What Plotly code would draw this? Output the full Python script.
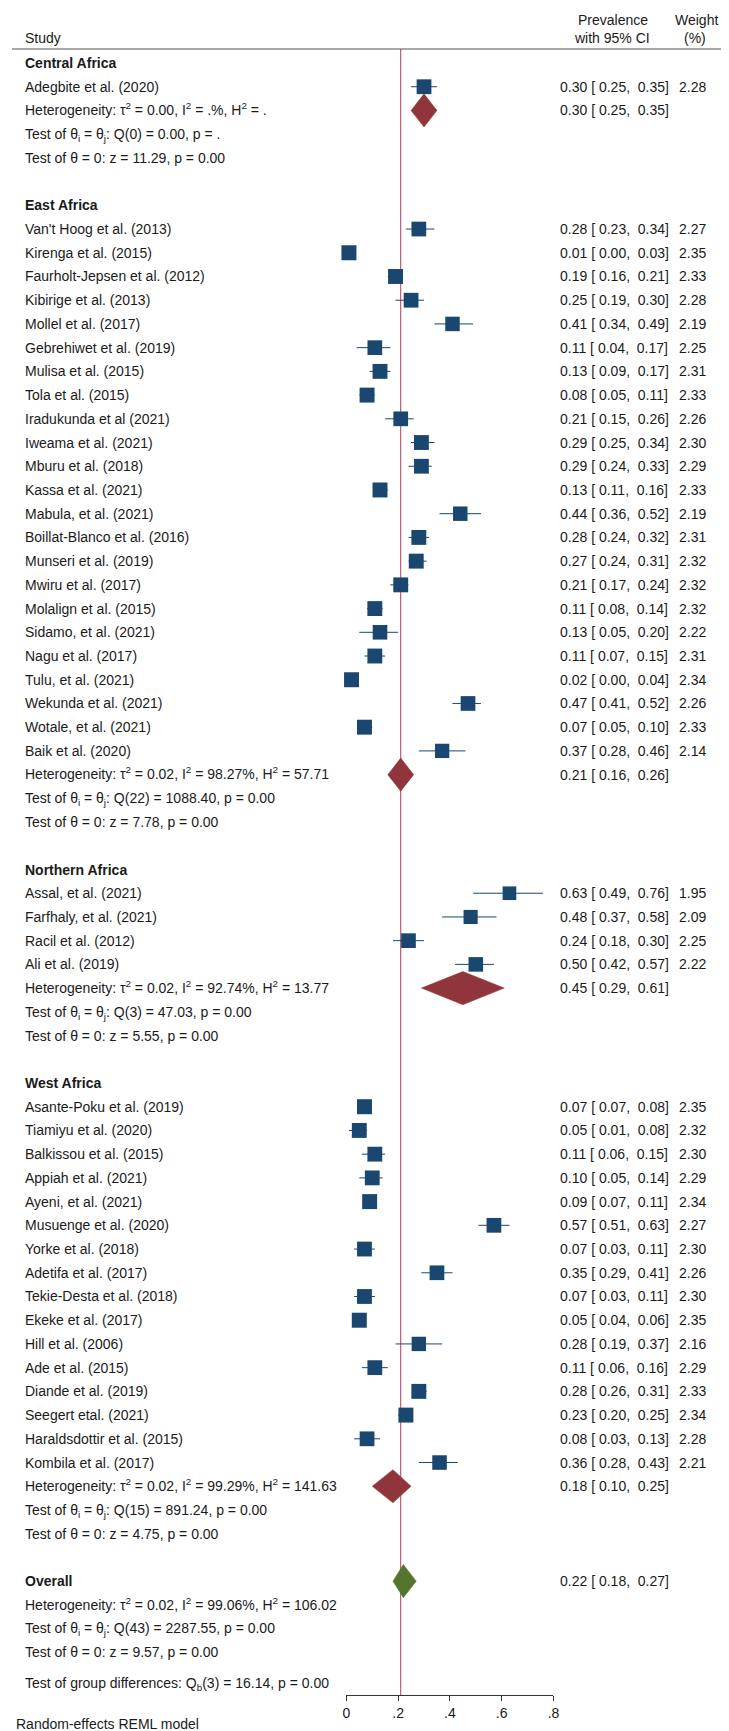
import math
import plotly.graph_objects as go

# ---- data ----
central_names = ["Adegbite et al. (2020)"]
central_est = [0.30]
central_lo = [0.25]
central_hi = [0.35]
central_w = [2.28]

east_names = [
    "Van't Hoog et al. (2013)", "Kirenga et al. (2015)", "Faurholt-Jepsen et al. (2012)",
    "Kibirige et al. (2013)", "Mollel et al. (2017)", "Gebrehiwet et al. (2019)",
    "Mulisa et al. (2015)", "Tola et al. (2015)", "Iradukunda et al (2021)",
    "Iweama et al. (2021)", "Mburu et al. (2018)", "Kassa et al. (2021)",
    "Mabula, et al. (2021)", "Boillat-Blanco et al. (2016)", "Munseri et al. (2019)",
    "Mwiru et al. (2017)", "Molalign et al. (2015)", "Sidamo, et al. (2021)",
    "Nagu et al. (2017)", "Tulu, et al. (2021)", "Wekunda et al. (2021)",
    "Wotale, et al. (2021)", "Baik et al. (2020)",
]
east_est = [0.28, 0.01, 0.19, 0.25, 0.41, 0.11, 0.13, 0.08, 0.21, 0.29, 0.29, 0.13,
            0.44, 0.28, 0.27, 0.21, 0.11, 0.13, 0.11, 0.02, 0.47, 0.07, 0.37]
east_lo = [0.23, 0.00, 0.16, 0.19, 0.34, 0.04, 0.09, 0.05, 0.15, 0.25, 0.24, 0.11,
           0.36, 0.24, 0.24, 0.17, 0.08, 0.05, 0.07, 0.00, 0.41, 0.05, 0.28]
east_hi = [0.34, 0.03, 0.21, 0.30, 0.49, 0.17, 0.17, 0.11, 0.26, 0.34, 0.33, 0.16,
           0.52, 0.32, 0.31, 0.24, 0.14, 0.20, 0.15, 0.04, 0.52, 0.10, 0.46]
east_w = [2.27, 2.35, 2.33, 2.28, 2.19, 2.25, 2.31, 2.33, 2.26, 2.30, 2.29, 2.33,
          2.19, 2.31, 2.32, 2.32, 2.32, 2.22, 2.31, 2.34, 2.26, 2.33, 2.14]

north_names = ["Assal, et al. (2021)", "Farfhaly, et al. (2021)", "Racil et al. (2012)", "Ali et al. (2019)"]
north_est = [0.63, 0.48, 0.24, 0.50]
north_lo = [0.49, 0.37, 0.18, 0.42]
north_hi = [0.76, 0.58, 0.30, 0.57]
north_w = [1.95, 2.09, 2.25, 2.22]

west_names = [
    "Asante-Poku et al. (2019)", "Tiamiyu et al. (2020)", "Balkissou et al. (2015)",
    "Appiah et al. (2021)", "Ayeni, et al. (2021)", "Musuenge et al. (2020)",
    "Yorke et al. (2018)", "Adetifa et al. (2017)", "Tekie-Desta et al. (2018)",
    "Ekeke et al. (2017)", "Hill et al. (2006)", "Ade et al. (2015)",
    "Diande et al. (2019)", "Seegert etal. (2021)", "Haraldsdottir et al. (2015)",
    "Kombila et al. (2017)",
]
west_est = [0.07, 0.05, 0.11, 0.10, 0.09, 0.57, 0.07, 0.35, 0.07, 0.05, 0.28, 0.11, 0.28, 0.23, 0.08, 0.36]
west_lo = [0.07, 0.01, 0.06, 0.05, 0.07, 0.51, 0.03, 0.29, 0.03, 0.04, 0.19, 0.06, 0.26, 0.20, 0.03, 0.28]
west_hi = [0.08, 0.08, 0.15, 0.14, 0.11, 0.63, 0.11, 0.41, 0.11, 0.06, 0.37, 0.16, 0.31, 0.25, 0.13, 0.43]
west_w = [2.35, 2.32, 2.30, 2.29, 2.34, 2.27, 2.30, 2.26, 2.30, 2.35, 2.16, 2.29, 2.33, 2.34, 2.28, 2.21]

region_labels = ["Central Africa", "East Africa", "Northern Africa", "West Africa"]
pooled_est = [0.30, 0.21, 0.45, 0.18]
pooled_lo = [0.25, 0.16, 0.29, 0.10]
pooled_hi = [0.35, 0.26, 0.61, 0.25]
het_text = [
    "Heterogeneity: τ<sup>2</sup> = 0.00, I<sup>2</sup> = .%, H<sup>2</sup> = .",
    "Heterogeneity: τ<sup>2</sup> = 0.02, I<sup>2</sup> = 98.27%, H<sup>2</sup> = 57.71",
    "Heterogeneity: τ<sup>2</sup> = 0.02, I<sup>2</sup> = 92.74%, H<sup>2</sup> = 13.77",
    "Heterogeneity: τ<sup>2</sup> = 0.02, I<sup>2</sup> = 99.29%, H<sup>2</sup> = 141.63",
]
q_text = [
    "Q(0) = 0.00, p = .", "Q(22) = 1088.40, p = 0.00",
    "Q(3) = 47.03, p = 0.00", "Q(15) = 891.24, p = 0.00",
]
z_text = ["z = 11.29, p = 0.00", "z = 7.78, p = 0.00", "z = 5.55, p = 0.00", "z = 4.75, p = 0.00"]

overall_est, overall_lo, overall_hi = 0.22, 0.18, 0.27
overall_het = "Heterogeneity: τ<sup>2</sup> = 0.02, I<sup>2</sup> = 99.06%, H<sup>2</sup> = 106.02"
overall_q = "Q(43) = 2287.55, p = 0.00"
overall_z = "z = 9.57, p = 0.00"
group_diff = "Test of group differences: Q<sub>b</sub>(3) = 16.14, p = 0.00"
ref_line = 0.21

tick_vals = [0, 0.2, 0.4, 0.6, 0.8]
tick_text = ["0", ".2", ".4", ".6", ".8"]

# ---- layout helpers ----
W, H = 729, 1731
NAVY = "#1A476F"
MAROON = "#90353B"
GREEN = "#55752F"
TXT = "#1a1a1a"
FONT = "Liberation Sans, Arial, sans-serif"
FS = 14
NB = "\u00a0"


def px(x):
    return x / W


def py(y):
    return (H - y) / H


def ci_str(e, l, h):
    return f"{e:.2f} [{NB}{l:.2f},{NB}{NB}{h:.2f}]"


def vshift(text):
    # sup/sub enlarge the annotation box on one side; nudge back onto the row line
    s = 0
    if "<sup>" in text:
        s += 1.2
    if "<sub>" in text:
        s -= 0.7
    return s


studies = [
    (central_names, central_est, central_lo, central_hi, central_w),
    (east_names, east_est, east_lo, east_hi, east_w),
    (north_names, north_est, north_lo, north_hi, north_w),
    (west_names, west_est, west_lo, west_hi, west_w),
]

ann = []


def left(row, text, bold=False):
    t = f"<b>{text}</b>" if bold else text
    ann.append(dict(x=px(11), y=row, xref="paper", yref="y", text=t, yshift=vshift(t),
                    xanchor="left", yanchor="middle", showarrow=False))


def ci_col(row, text):
    ann.append(dict(x=px(554), y=row, xref="paper", yref="y", text=text,
                    xanchor="left", yanchor="middle", showarrow=False))


def w_col(row, text):
    ann.append(dict(x=px(706), y=row, xref="paper", yref="y", text=text,
                    xanchor="right", yanchor="middle", showarrow=False))


sq_x, sq_y, sq_s = [], [], []
ci_x, ci_y = [], []
diamonds = []

row = 0
for g, (names, est, lo, hi, wt) in enumerate(studies):
    left(row, region_labels[g], bold=True)
    row += 1
    for n, e, l, h, w in zip(names, est, lo, hi, wt):
        left(row, n)
        ci_col(row, ci_str(e, l, h))
        w_col(row, f"{w:.2f}")
        sq_x.append(e)
        sq_y.append(row)
        sq_s.append(15 * math.sqrt(w / 2.35))
        ci_x += [l, h, None]
        ci_y += [row, row, None]
        row += 1
    left(row, het_text[g])
    ci_col(row, ci_str(pooled_est[g], pooled_lo[g], pooled_hi[g]))
    diamonds.append((pooled_est[g], pooled_lo[g], pooled_hi[g], row, MAROON))
    row += 1
    left(row, "Test of θ<sub>i</sub> = θ<sub>j</sub>: " + q_text[g])
    row += 1
    left(row, "Test of θ = 0: " + z_text[g])
    row += 2

left(row, "Overall", bold=True)
ci_col(row, ci_str(overall_est, overall_lo, overall_hi))
diamonds.append((overall_est, overall_lo, overall_hi, row, GREEN))
left(row + 1, overall_het)
left(row + 2, "Test of θ<sub>i</sub> = θ<sub>j</sub>: " + overall_q)
left(row + 3, "Test of θ = 0: " + overall_z)
left(row + 4.3, group_diff)

fig = go.Figure()

# reference line
fig.add_trace(go.Scatter(x=[ref_line, ref_line], y=[-0.59, 68.8], mode="lines",
                         line=dict(color="#B03A5B", width=1), hoverinfo="skip"))

# confidence intervals
fig.add_trace(go.Scatter(x=ci_x, y=ci_y, mode="lines", line=dict(color=NAVY, width=1),
                         hoverinfo="skip", cliponaxis=False))

# study squares
fig.add_trace(go.Scatter(x=sq_x, y=sq_y, mode="markers", cliponaxis=False,
                         marker=dict(symbol="square", size=sq_s, color=NAVY, opacity=1,
                                     line=dict(width=0))))

# pooled diamonds
for e, l, h, r, c in diamonds:
    fig.add_trace(go.Scatter(x=[l, e, h, e, l], y=[r, r - 0.7, r, r + 0.7, r], mode="lines",
                             fill="toself", fillcolor=c, line=dict(color=c, width=0.5),
                             hoverinfo="skip", cliponaxis=False))

# header / footer texts
hdr = [
    (11, 30, "Study", "left"),
    (609, 12, "Prevalence", "center"),
    (608, 30, "with 95% CI", "center"),
    (694, 12, "Weight", "center"),
    (693, 30, "(%)", "center"),
    (2, 1716, "Random-effects REML model", "left"),
]
for x, y, t, a in hdr:
    ann.append(dict(x=px(x), y=py(y), xref="paper", yref="paper", text=t, xanchor=a,
                    yanchor="middle", showarrow=False))

fig.update_layout(
    width=W, height=H,
    margin=dict(l=0, r=0, t=0, b=0),
    plot_bgcolor="white", paper_bgcolor="white",
    showlegend=False,
    font=dict(family=FONT, size=FS, color=TXT),
    annotations=ann,
    shapes=[dict(type="line", xref="paper", yref="paper", x0=0, x1=1, y0=py(41), y1=py(41),
                 line=dict(color="#555555", width=1.2))],
    xaxis=dict(domain=[px(339), px(549)], range=[0, 0.8], showgrid=False, zeroline=False,
               showline=True, linecolor="#333333", linewidth=1, ticks="outside", ticklen=5,
               tickcolor="#333333", tickvals=tick_vals, ticktext=tick_text,
               tickfont=dict(size=FS, color=TXT)),
    yaxis=dict(domain=[py(1687), py(41)], range=[68.8, -0.59], visible=False),
)

fig.write_html("out.html")
